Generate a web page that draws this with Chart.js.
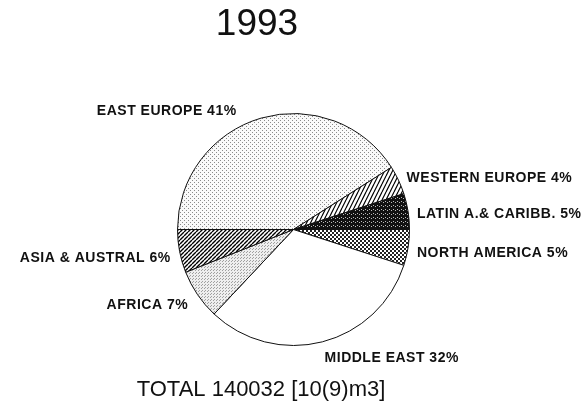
<!DOCTYPE html>
<html lang="en">
<head>
    <meta charset="UTF-8">
    <title>1993</title>
    <style>
        html, body { margin: 0; padding: 0; background: #fff; }
        #pieChart { display: block; }
    </style>
</head>
<body>
    <canvas id="pieChart" width="587" height="406"></canvas>

<script src="https://cdn.jsdelivr.net/npm/chart.js"></script>
<script>
    // data
    const regions = ['EAST EUROPE', 'WESTERN EUROPE', 'LATIN A.& CARIBB.', 'NORTH AMERICA', 'MIDDLE EAST', 'AFRICA', 'ASIA & AUSTRAL'];
    const shares = [41, 4, 5, 5, 32, 7, 6];
    const chartTitle = '1993';
    const totalText = 'TOTAL 140032 [10(9)m3]';

    // small nudges for the labels (dx, dy) so they sit like the original
    const labelNudge = [[-22, 2], [0, 2], [0, 4], [0, 4], [0, 8], [-2, 5], [0, 5]];

    function makePattern(size, draw) {
        const c = document.createElement('canvas');
        c.width = size; c.height = size;
        const g = c.getContext('2d');
        draw(g, size);
        return document.getElementById('pieChart').getContext('2d').createPattern(c, 'repeat');
    }

    const fills = [
        // sparse grey dots
        makePattern(4, (g) => {
            g.fillStyle = '#fafafa'; g.fillRect(0, 0, 4, 4);
            g.fillStyle = '#8a8a8a'; g.fillRect(0, 0, 1, 1); g.fillRect(2, 2, 1, 1);
        }),
        // steep hatching
        makePattern(8, (g, s) => {
            g.fillStyle = '#fff'; g.fillRect(0, 0, s, s);
            g.strokeStyle = '#000'; g.lineWidth = 1.2;
            g.beginPath();
            for (let i = -2; i <= 2; i++) { g.moveTo(i * 4 + 2, s); g.lineTo(i * 4 + 6, 0); }
            g.stroke();
        }),
        // near black speckle
        makePattern(4, (g) => {
            g.fillStyle = '#111'; g.fillRect(0, 0, 4, 4);
            g.fillStyle = '#bbb'; g.fillRect(1, 1, 1, 1); g.fillRect(3, 2, 1, 1);
        }),
        // checker / crosshatch
        makePattern(4, (g) => {
            g.fillStyle = '#fff'; g.fillRect(0, 0, 4, 4);
            g.fillStyle = '#222'; g.fillRect(0, 0, 2, 2); g.fillRect(2, 2, 2, 2);
        }),
        '#ffffff',
        // fine light stipple
        makePattern(3, (g) => {
            g.fillStyle = '#eeeeee'; g.fillRect(0, 0, 3, 3);
            g.fillStyle = '#a0a0a0'; g.fillRect(0, 0, 1, 1); g.fillRect(1, 2, 1, 1);
        }),
        // diagonal hatching
        makePattern(4, (g, s) => {
            g.fillStyle = '#fff'; g.fillRect(0, 0, s, s);
            g.strokeStyle = '#000'; g.lineWidth = 1.4;
            g.beginPath();
            for (let i = -1; i <= 1; i++) { g.moveTo(i * 4, s); g.lineTo(i * 4 + s, 0); }
            g.stroke();
        })
    ];

    const textPlugin = {
        id: 'texts',
        afterDraw(chart) {
            const ctx = chart.ctx;
            const meta = chart.getDatasetMeta(0);
            ctx.save();
            ctx.fillStyle = '#111';
            ctx.textBaseline = 'middle';

            ctx.textAlign = 'center';
            ctx.font = '37px "Liberation Sans", Arial, sans-serif';
            ctx.fillText(chartTitle, 257, 25);
            ctx.font = '22px "Liberation Sans", Arial, sans-serif';
            ctx.fillText(totalText, 261, 390);

            ctx.font = 'bold 14px "Liberation Sans", Arial, sans-serif';
            ctx.letterSpacing = '0.5px';
            meta.data.forEach((arc, i) => {
                const p = arc.getProps(['x', 'y', 'startAngle', 'endAngle', 'outerRadius'], true);
                const mid = (p.startAngle + p.endAngle) / 2;
                const r = p.outerRadius + 9;
                const x = p.x + Math.cos(mid) * r + labelNudge[i][0];
                const y = p.y + Math.sin(mid) * r + labelNudge[i][1];
                ctx.textAlign = Math.cos(mid) >= 0 ? 'left' : 'right';
                ctx.fillText(regions[i] + ' ' + shares[i] + '%', x, y);
            });
            ctx.restore();
        }
    };

    new Chart(document.getElementById('pieChart'), {
        type: 'pie',
        data: {
            labels: regions,
            datasets: [{
                data: shares,
                backgroundColor: fills,
                borderColor: '#111',
                borderWidth: 1
            }]
        },
        options: {
            responsive: false,
            animation: false,
            rotation: 270,
            layout: { padding: { top: 113, bottom: 60, left: 177, right: 177 } },
            plugins: {
                legend: { display: false },
                tooltip: { enabled: false }
            }
        },
        plugins: [textPlugin]
    });
</script>
</body>
</html>
